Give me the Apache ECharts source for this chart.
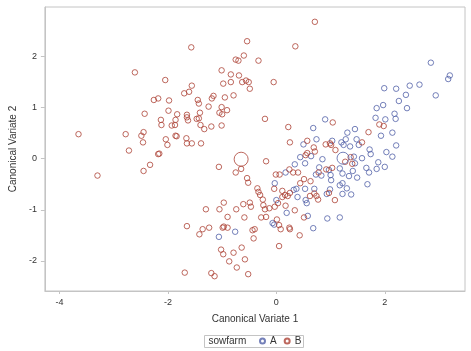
<!DOCTYPE html>
<html lang="en">
  <head>
    <meta charset="UTF-8" />
    <title>Canonical Variates</title>
    <script src="https://cdn.jsdelivr.net/npm/echarts@6/dist/echarts.min.js"></script>
    <style>
      body { margin: 0; background: #fff; }
      #main { width: 471px; height: 351px; }
    </style>
  </head>
  <body>
    <div id="main"></div>
    <script>
      // sowfarm A, canonical variate 1 / 2
      var farmA = [
        [2.85,1.88],[3.20,1.63],[3.17,1.56],[1.99,1.38],[2.21,1.37],[2.46,1.43],[2.64,1.45],[2.39,1.25],
        [2.94,1.24],[2.26,1.13],[1.97,1.05],[1.85,0.99],[2.41,0.99],[2.18,0.88],[1.83,0.80],[2.01,0.77],
        [2.20,0.78],[0.90,0.77],[0.68,0.60],[0.74,0.38],[0.50,0.28],[0.44,0.03],[0.64,0.05],[0.53,-0.09],
        [0.34,-0.11],[0.17,-0.27],[0.73,-0.31],[-0.03,-0.48],[0.32,-0.61],[0.37,-0.59],[0.39,-0.75],[0.53,-0.59],
        [0.70,-0.59],[0.54,-0.81],[0.56,-0.87],[0.00,-0.81],[0.19,-1.06],[0.58,-1.12],[0.68,-1.36],[-0.07,-1.26],
        [-0.04,-1.29],[-1.06,-1.53],[-0.76,-1.43],[1.45,0.58],[1.31,0.51],[1.93,0.45],[2.14,0.51],[2.21,0.26],
        [1.03,0.35],[1.20,0.32],[1.24,0.27],[1.28,0.38],[1.48,0.38],[1.52,0.27],[1.36,0.24],[0.85,-0.01],
        [1.43,0.04],[1.45,-0.09],[1.58,0.01],[1.72,0.18],[1.74,0.09],[2.03,0.13],[2.14,0.04],[1.88,-0.07],
        [2.00,-0.16],[1.85,-0.20],[1.66,-0.18],[1.71,-0.27],[1.41,-0.24],[1.17,-0.19],[0.97,-0.22],[0.79,-0.17],
        [0.83,-0.33],[1.00,-0.32],[1.01,-0.42],[1.22,-0.29],[1.34,-0.34],[1.49,-0.37],[1.17,-0.52],[1.22,-0.48],
        [1.68,-0.50],[1.30,-0.58],[0.99,-0.60],[0.93,-0.69],[1.22,-0.69],[1.38,-0.70],[0.94,-1.17],[1.17,-1.15]
      ];
      // sowfarm B
      var farmB = [
        [-2.61,1.69],[-2.26,1.15],[-2.18,1.18],[-2.43,0.88],[0.71,2.68],[-1.57,2.18],[-0.54,2.30],[0.35,2.20],
        [-0.75,1.94],[-0.70,1.92],[-0.60,2.02],[-0.33,1.92],[-1.01,1.73],[-0.84,1.65],[-0.69,1.63],[-2.05,1.54],
        [-0.98,1.47],[-0.84,1.50],[-0.63,1.50],[-0.56,1.53],[-0.51,1.50],[-0.49,1.37],[-0.05,1.50],[-1.56,1.43],
        [-1.61,1.31],[-1.70,1.28],[-1.98,1.14],[-1.45,1.15],[-1.43,1.08],[-1.19,1.18],[-1.16,1.23],[-0.95,1.20],
        [-0.79,1.24],[-1.25,1.02],[-1.01,1.01],[-0.91,0.95],[-1.05,0.90],[-1.00,0.87],[-1.99,0.94],[-1.83,0.87],
        [-1.65,0.86],[-1.65,0.81],[-1.41,0.90],[-1.47,0.78],[-1.43,0.79],[-2.13,0.76],[-1.86,0.76],[-0.21,0.78],
        [-2.12,0.66],[-3.65,0.48],[-2.78,0.48],[-2.49,0.45],[-2.45,0.52],[-2.46,0.32],[-2.72,0.16],[-2.18,0.09],
        [-2.16,0.10],[-2.33,-0.12],[-2.45,-0.24],[-3.30,-0.33],[-1.93,0.65],[-1.87,0.66],[-1.63,0.75],[-1.40,0.66],
        [-1.33,0.58],[-1.20,0.63],[-1.01,0.65],[-1.86,0.45],[-1.84,0.44],[-2.04,0.38],[-2.01,0.27],[-1.66,0.40],
        [-1.65,0.30],[-1.56,0.30],[-1.39,0.30],[-0.19,-0.05],[-1.06,-0.16],[-0.75,-0.27],[-0.65,-0.20],[-0.54,-0.38],
        [-0.52,-0.47],[0.22,0.62],[0.25,0.32],[0.57,0.35],[0.71,0.14],[0.69,0.22],[0.57,0.11],[0.54,0.07],
        [0.24,-0.21],[-0.01,-0.31],[0.06,-0.31],[0.31,-0.27],[0.40,-0.27],[0.51,-0.40],[0.63,-0.44],[0.44,-0.48],
        [-0.35,-0.58],[-0.33,-0.65],[-0.04,-0.59],[0.11,-0.63],[0.16,-0.71],[0.11,-0.75],[0.21,-0.73],[0.25,-0.67],
        [0.62,-0.73],[0.74,-0.73],[-0.30,-0.71],[-0.25,-0.80],[-0.24,-0.91],[-0.21,-0.99],[-0.13,-0.97],[0.03,-0.87],
        [-0.03,-0.94],[0.17,-0.92],[0.34,-1.01],[0.51,-1.15],[-0.47,-0.94],[-0.49,-0.86],[-0.61,-0.89],[-0.74,-0.99],
        [-0.97,-0.86],[-1.05,-0.99],[-1.30,-0.99],[-0.90,-1.14],[-0.59,-1.15],[-0.28,-1.15],[-0.19,-1.14],[0.01,-1.19],
        [0.05,-1.30],[0.08,-1.38],[0.24,-1.35],[-1.65,-1.32],[-1.36,-1.38],[-1.24,-1.35],[-0.99,-1.35],[-0.97,-1.33],
        [-0.90,-1.35],[-1.42,-1.48],[-0.44,-1.40],[-0.40,-1.38],[-0.42,-1.56],[0.25,-1.38],[0.43,-1.50],[0.05,-1.71],
        [-0.64,-1.74],[-1.02,-1.78],[-0.98,-1.87],[-0.79,-1.84],[-0.58,-1.97],[-0.87,-2.01],[-0.73,-2.13],[-0.52,-2.26],
        [-1.69,-2.23],[-1.20,-2.24],[-1.14,-2.30],[1.04,0.71],[1.90,0.67],[1.98,0.64],[1.70,0.52],[0.91,0.28],
        [0.99,0.30],[1.01,0.27],[1.58,0.32],[1.09,0.17],[1.27,-0.06],[1.37,0.03],[1.40,-0.10],[1.03,-0.18],
        [0.92,-0.21],[0.78,-0.27],[0.97,-0.67],[0.70,-0.68],[0.77,-0.80],[1.08,-0.81]
      ];
      // group means
      var meanA = [[1.23, 0.01]];
      var meanB = [[-0.65, -0.01]];

      var xTicks = [-4, -2, 0, 2];
      var yTicks = [-2, -1, 0, 1, 2];

      var blue = "#5160a8";
      var red = "#ad4236";
      var gray = "#c4c4c4";
      var font = "Liberation Sans, Arial, sans-serif";

      function pts(name, data, color, size) {
        return {
          name: name,
          type: "scatter",
          data: data,
          symbol: "circle",
          symbolSize: size,
          silent: true,
          itemStyle: { color: "rgba(0,0,0,0)", borderColor: color, borderWidth: 1 },
        };
      }

      var myChart = echarts.init(document.getElementById("main"));
      var option = {
        animation: false,
        textStyle: { fontFamily: font },
        grid: {
          left: 43, top: 7, right: 6, bottom: 60,
          show: true, borderColor: gray, borderWidth: 1,
        },
        xAxis: {
          type: "value",
          min: -4.27,
          max: 3.48,
          name: "Canonical Variate 1",
          nameLocation: "middle",
          nameGap: 23,
          nameTextStyle: { color: "#333", fontSize: 10 },
          axisLine: { show: true, onZero: false, lineStyle: { color: gray } },
          splitLine: { show: false },
          axisTick: { show: true, length: 3, customValues: xTicks, lineStyle: { color: gray } },
          axisLabel: { customValues: xTicks, color: "#333", fontSize: 9, margin: 7 },
        },
        yAxis: {
          type: "value",
          min: -2.59,
          max: 2.97,
          name: "Canonical Variate 2",
          nameLocation: "middle",
          nameGap: 26,
          nameRotate: 90,
          nameTextStyle: { color: "#333", fontSize: 10 },
          axisLine: { show: true, onZero: false, lineStyle: { color: gray } },
          splitLine: { show: false },
          axisTick: { show: true, length: 4, customValues: yTicks, lineStyle: { color: gray } },
          axisLabel: { customValues: yTicks, color: "#333", fontSize: 9, margin: 8 },
        },
        legend: {
          data: ["A", "B"],
          left: 259,
          top: 336,
          itemWidth: 5,
          itemHeight: 5,
          itemGap: 7,
          icon: "circle",
          textStyle: { color: "#333", fontSize: 10 },
          padding: 0,
        },
        graphic: [
          {
            type: "rect",
            shape: { x: 204.5, y: 335.5, width: 99, height: 12 },
            style: { fill: "#fff", stroke: gray, lineWidth: 1 },
            z: -1,
          },
          {
            type: "text",
            x: 208.5,
            y: 341.5,
            style: { text: "sowfarm", fill: "#333", fontSize: 10, fontFamily: font, verticalAlign: "middle" },
          },
        ],
        series: [
          pts("A", farmA, blue, 5.5),
          pts("B", farmB, red, 5.5),
          pts("meanA", meanA, blue, 12),
          pts("meanB", meanB, red, 14),
        ],
      };
      myChart.setOption(option);
    </script>
  </body>
</html>
